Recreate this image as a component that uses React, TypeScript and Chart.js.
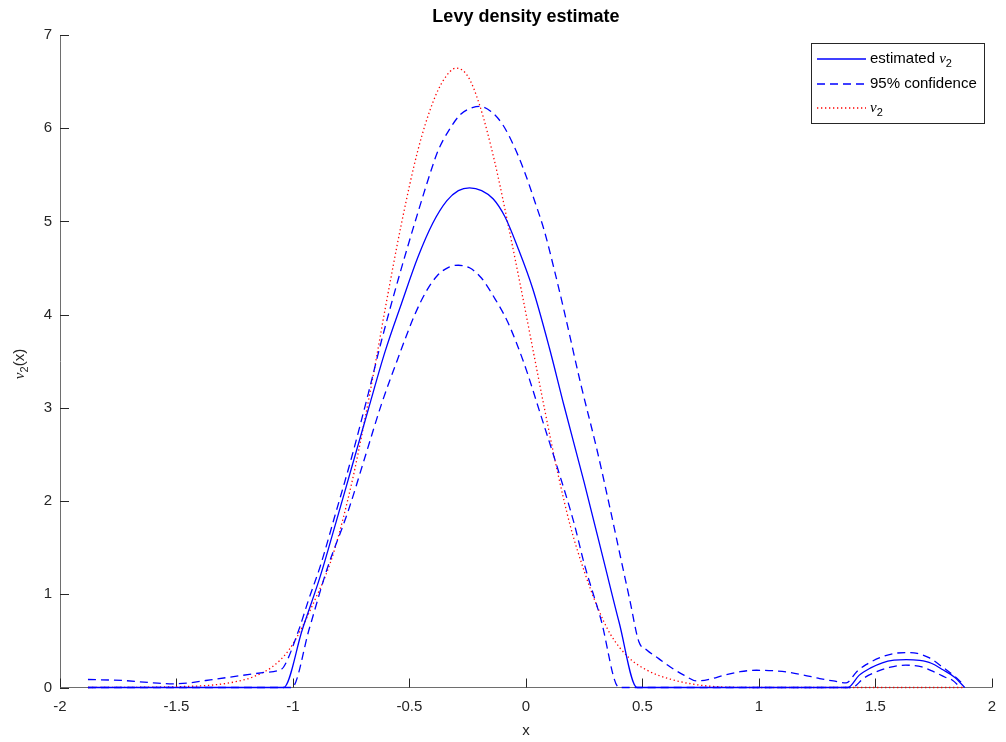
import { useEffect, useRef } from 'react';
import { Chart, registerables } from 'chart.js';

Chart.register(...registerables);

// Estimated density
const estX = [-1.88, -1.04, -0.96, -0.882, -0.819, -0.748, -0.677, -0.605, -0.534, -0.463, -0.40, -0.34, -0.29, -0.242, -0.19, -0.14, -0.09, -0.035, 0.029, 0.1, 0.164, 0.25, 0.335, 0.40, 0.477, 1.382, 1.43, 1.48, 1.53, 1.58, 1.633, 1.69, 1.74, 1.79, 1.84, 1.884];
const estY = [0, 0, 0.62, 1.2, 1.74, 2.36, 2.98, 3.6, 4.12, 4.62, 4.98, 5.22, 5.33, 5.36, 5.33, 5.24, 5.05, 4.72, 4.28, 3.65, 3.02, 2.2, 1.35, 0.7, 0, 0, 0.13, 0.21, 0.265, 0.293, 0.30, 0.29, 0.26, 0.19, 0.11, 0];

// Upper 95% confidence band
const upX = [-1.88, -1.73, -1.6, -1.517, -1.45, -1.374, -1.232, -1.13, -1.061, -1.04, -0.976, -0.933, -0.883, -0.819, -0.748, -0.677, -0.62, -0.548, -0.463, -0.40, -0.377, -0.33, -0.28, -0.23, -0.199, -0.15, -0.10, -0.05, -0.007, 0.04, 0.079, 0.12, 0.164, 0.235, 0.306, 0.363, 0.406, 0.445, 0.485, 0.52, 0.57, 0.62, 0.68, 0.734, 0.79, 0.848, 0.92, 0.99, 1.06, 1.118, 1.19, 1.261, 1.32, 1.375, 1.42, 1.46, 1.53, 1.58, 1.63, 1.68, 1.73, 1.788, 1.84, 1.88];
const upY = [0.086, 0.075, 0.05, 0.039, 0.048, 0.075, 0.125, 0.16, 0.185, 0.22, 0.61, 0.94, 1.3, 1.85, 2.47, 3.15, 3.72, 4.38, 5.1, 5.6, 5.76, 5.98, 6.15, 6.22, 6.235, 6.18, 6.04, 5.8, 5.54, 5.2, 4.9, 4.5, 4.04, 3.26, 2.54, 1.9, 1.4, 0.95, 0.49, 0.40, 0.31, 0.22, 0.13, 0.07, 0.09, 0.13, 0.17, 0.185, 0.18, 0.167, 0.135, 0.096, 0.07, 0.05, 0.17, 0.245, 0.33, 0.365, 0.375, 0.365, 0.32, 0.22, 0.12, 0.03];

// Lower 95% confidence band
const loX = [-1.88, -1.005, -0.93, -0.855, -0.762, -0.691, -0.62, -0.548, -0.477, -0.43, -0.38, -0.33, -0.29, -0.24, -0.19, -0.14, -0.078, -0.007, 0.064, 0.135, 0.207, 0.25, 0.321, 0.40, 1.40, 1.45, 1.503, 1.56, 1.63, 1.70, 1.75, 1.80, 1.831, 1.865];
const loY = [0, 0, 0.63, 1.26, 1.9, 2.47, 3.04, 3.54, 4.0, 4.24, 4.42, 4.51, 4.53, 4.5, 4.39, 4.2, 3.92, 3.47, 2.92, 2.36, 1.76, 1.33, 0.74, 0, 0, 0.10, 0.167, 0.215, 0.24, 0.22, 0.17, 0.11, 0.078, 0];

// True density
const trueX = [-1.88, -1.6, -1.45, -1.35, -1.25, -1.175, -1.09, -1.018, -0.962, -0.904, -0.86, -0.819, -0.748, -0.691, -0.648, -0.605, -0.534, -0.463, -0.399, -0.35, -0.30, -0.25, -0.199, -0.135, -0.071, -0.021, 0.036, 0.079, 0.135, 0.192, 0.25, 0.306, 0.363, 0.442, 0.52, 0.62, 0.72, 0.8, 0.9, 1.0, 1.88];
const trueY = [0, 0.004, 0.012, 0.025, 0.06, 0.11, 0.22, 0.40, 0.64, 0.95, 1.2, 1.5, 2.19, 2.88, 3.45, 4.05, 4.98, 5.77, 6.28, 6.53, 6.645, 6.56, 6.25, 5.65, 4.9, 4.28, 3.55, 3.0, 2.32, 1.72, 1.25, 0.87, 0.57, 0.32, 0.185, 0.089, 0.035, 0.012, 0.002, 0, 0];

const xTicks = [-2, -1.5, -1, -0.5, 0, 0.5, 1, 1.5, 2];
const yTicks = [0, 1, 2, 3, 4, 5, 6, 7];

const titleText = 'Levy density estimate';
const xLabel = 'x';
const yLabel = 'ν₂(x)';
const legendLabels = ['estimated ν₂', '95% confidence', 'ν₂'];

const W = 1006;
const H = 742;
const SANS = '"Liberation Sans", Arial, Helvetica, sans-serif';
const SERIF = '"Liberation Serif", "DejaVu Serif", serif';
const TEXT = '#262626';
const AXIS = '#6e6e6e';
const BLUE = '#0000ff';
const RED = '#ff0000';
const LINE_W = 1.3;
const DASH = [8, 5];
const DOT = [1.3, 2.7];

// Legend rows: colour and dash of each entry
const legendColors = [BLUE, BLUE, RED];
const legendDashes = [[], DASH, DOT];

const pts = (xs: number[], ys: number[]) => xs.map((x, i) => ({ x, y: ys[i] }));

// Splits text so that ν is italic and ₂ becomes a subscript 2
function richSegments(text: string, size: number, bold = false) {
  const segs: { t: string; font: string; dy: number }[] = [];
  const weight = bold ? 'bold ' : '';
  for (const ch of text) {
    if (ch === 'ν') segs.push({ t: 'ν', font: `italic ${size}px ${SERIF}`, dy: 0 });
    else if (ch === '₂') segs.push({ t: '2', font: `${Math.round(size * 0.72)}px ${SANS}`, dy: size * 0.32 });
    else {
      const last = segs[segs.length - 1];
      const f = `${weight}${size}px ${SANS}`;
      if (last && last.font === f && last.dy === 0) last.t += ch;
      else segs.push({ t: ch, font: f, dy: 0 });
    }
  }
  return segs;
}

function drawRich(ctx: CanvasRenderingContext2D, text: string, x: number, y: number, size: number, align: 'left' | 'center', bold = false) {
  const segs = richSegments(text, size, bold);
  let total = 0;
  for (const s of segs) {
    ctx.font = s.font;
    total += ctx.measureText(s.t).width;
  }
  let cx = align === 'center' ? x - total / 2 : x;
  ctx.textAlign = 'left';
  ctx.textBaseline = 'middle';
  for (const s of segs) {
    ctx.font = s.font;
    ctx.fillText(s.t, cx, y + s.dy);
    cx += ctx.measureText(s.t).width;
  }
}

const decorPlugin = {
  id: 'decor',
  beforeDatasetsDraw(chart: any) {
    const { ctx, scales, chartArea } = chart;
    ctx.save();
    ctx.strokeStyle = TEXT;
    ctx.lineWidth = 1;
    const tl = 9;
    for (const v of yTicks) {
      const py = Math.round(scales.y.getPixelForValue(v)) + 0.5;
      ctx.beginPath();
      ctx.moveTo(chartArea.left, py);
      ctx.lineTo(chartArea.left + tl, py);
      ctx.stroke();
    }
    for (const v of xTicks) {
      const px = Math.round(scales.x.getPixelForValue(v)) + 0.5;
      ctx.beginPath();
      ctx.moveTo(px, chartArea.bottom);
      ctx.lineTo(px, chartArea.bottom - tl);
      ctx.stroke();
    }
    ctx.restore();
  },
  afterDraw(chart: any) {
    const { ctx, chartArea } = chart;
    ctx.save();
    ctx.fillStyle = '#000';
    drawRich(ctx, titleText, (chartArea.left + chartArea.right) / 2, 17, 18, 'center', true);
    ctx.fillStyle = TEXT;
    drawRich(ctx, xLabel, (chartArea.left + chartArea.right) / 2, 731, 15, 'center');
    ctx.save();
    ctx.translate(20, 364);
    ctx.rotate(-Math.PI / 2);
    drawRich(ctx, yLabel, 0, 0, 15, 'center');
    ctx.restore();

    // Legend box
    const bx = 811, by = 43, bw = 173, bh = 80;
    ctx.fillStyle = '#fff';
    ctx.fillRect(bx, by, bw, bh);
    ctx.strokeStyle = TEXT;
    ctx.lineWidth = 1;
    ctx.strokeRect(bx + 0.5, by + 0.5, bw, bh);
    const rows = [59, 84, 108];
    rows.forEach((ry, i) => {
      ctx.save();
      ctx.strokeStyle = legendColors[i];
      ctx.lineWidth = LINE_W;
      ctx.setLineDash(legendDashes[i]);
      ctx.beginPath();
      ctx.moveTo(817, ry);
      ctx.lineTo(866, ry);
      ctx.stroke();
      ctx.restore();
      ctx.fillStyle = '#000';
      drawRich(ctx, legendLabels[i], 870, ry, 15, 'left');
    });
    ctx.restore();
  },
};

export default function App() {
  const ref = useRef<HTMLCanvasElement>(null);

  useEffect(() => {
    if (!ref.current) return;
    const line = { borderWidth: LINE_W, pointRadius: 0, fill: false, clip: false as any, cubicInterpolationMode: 'monotone' as const };
    const chart = new Chart(ref.current, {
      type: 'line',
      data: {
        datasets: [
          { ...line, label: legendLabels[0], data: pts(estX, estY), borderColor: BLUE },
          { ...line, label: legendLabels[1], data: pts(upX, upY), borderColor: BLUE, borderDash: DASH },
          { ...line, label: legendLabels[1], data: pts(loX, loY), borderColor: BLUE, borderDash: DASH },
          { ...line, label: legendLabels[2], data: pts(trueX, trueY), borderColor: RED, borderDash: DOT },
        ],
      },
      options: {
        animation: false,
        responsive: false,
        devicePixelRatio: 1,
        layout: { padding: { top: 35, right: 10, left: 0, bottom: 0 } },
        plugins: { legend: { display: false }, tooltip: { enabled: false }, title: { display: false } },
        scales: {
          x: {
            type: 'linear',
            min: -2,
            max: 2,
            afterBuildTicks: (s: any) => { s.ticks = xTicks.map((value) => ({ value })); },
            afterFit: (s: any) => { s.height = 54.5; },
            ticks: { callback: (v: any) => String(v), font: { family: SANS, size: 15 }, color: TEXT, padding: 10, maxRotation: 0, autoSkip: false },
            grid: { display: true, drawOnChartArea: false, drawTicks: false },
            border: { display: true, color: AXIS, width: 1 },
          },
          y: {
            type: 'linear',
            min: 0,
            max: 7,
            afterBuildTicks: (s: any) => { s.ticks = yTicks.map((value) => ({ value })); },
            afterFit: (s: any) => { s.width = 60; },
            ticks: { callback: (v: any) => String(v), font: { family: SANS, size: 15 }, color: TEXT, padding: 8 },
            grid: { display: true, drawOnChartArea: false, drawTicks: false },
            border: { display: true, color: AXIS, width: 1 },
          },
        },
      },
      plugins: [decorPlugin],
    } as any);
    return () => chart.destroy();
  }, []);

  return (
    <div style={{ position: 'absolute', left: 0, top: 0, width: W, height: H, background: '#fff' }}>
      <canvas ref={ref} width={W} height={H} style={{ width: W, height: H, display: 'block' }} />
    </div>
  );
}
